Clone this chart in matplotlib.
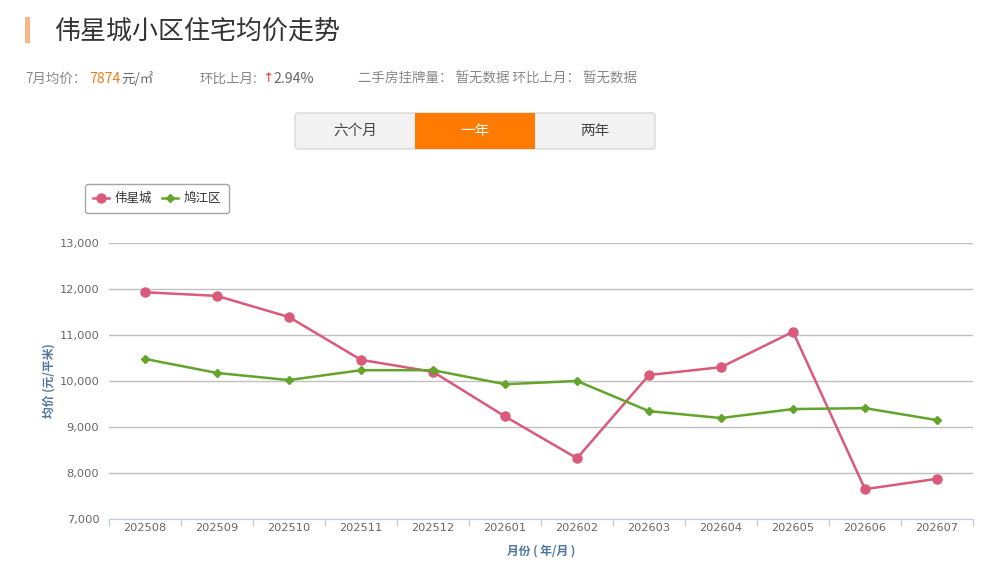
import matplotlib
matplotlib.use("Agg")
import matplotlib.pyplot as plt
from matplotlib.patches import Rectangle, FancyBboxPatch

plt.rcParams['font.family'] = ['Noto Sans CJK SC', 'DejaVu Sans']

months = ["202508", "202509", "202510", "202511", "202512", "202601",
          "202602", "202603", "202604", "202605", "202606", "202607"]
weixing = [11930, 11850, 11390, 10460, 10200, 9230, 8320, 10130, 10300, 11070, 7649, 7874]
jiujiang = [10480, 10175, 10020, 10235, 10235, 9930, 10000, 9345, 9195, 9390, 9410, 9150]
series_names = ["伟星城", "鸠江区"]
yticks = [7000, 8000, 9000, 10000, 11000, 12000, 13000]

W, H = 982, 565
fig = plt.figure(figsize=(W / 100, H / 100), dpi=100)
fig.patch.set_facecolor("white")

# overlay in pixel coordinates for header elements
bg = fig.add_axes([0, 0, 1, 1])
bg.set_xlim(0, W)
bg.set_ylim(H, 0)
bg.axis("off")

bg.add_patch(Rectangle((25, 17), 5, 26, color="#fbb584", lw=0))
bg.text(54, 31, "伟星城小区住宅均价走势", fontsize=18.7, color="#333333", va="center", ha="left")

small = 9.7
bg.text(25, 79, "7月均价：", fontsize=small, color="#888888", va="center")
bg.text(89, 79, "7874", fontsize=small + 0.5, color="#f07d1a", va="center")
bg.text(121, 79, "元/㎡", fontsize=small, color="#666666", va="center")
bg.text(200, 79, "环比上月:", fontsize=small, color="#888888", va="center")
bg.text(262, 79, "↑", fontsize=small, color="#e8413a", va="center", family=["DejaVu Sans"])
bg.text(273, 79, "2.94%", fontsize=small + 0.5, color="#666666", va="center")
bg.text(358, 79, "二手房挂牌量： 暂无数据 环比上月： 暂无数据", fontsize=small, color="#888888", va="center")

# tab buttons
bg.add_patch(FancyBboxPatch((295, 113), 360, 36, boxstyle="round,pad=0,rounding_size=3",
                            facecolor="#f2f2f2", edgecolor="#d9d9d9", lw=1))
bg.add_patch(Rectangle((415, 113), 120, 36, facecolor="#ff7a00", edgecolor="none"))
bg.text(355, 131, "六个月", fontsize=10.5, color="#444444", ha="center", va="center")
bg.text(475, 131, "一年", fontsize=10.5, color="white", ha="center", va="center")
bg.text(595, 131, "两年", fontsize=10.5, color="#444444", ha="center", va="center")

# main chart
left, right, top, bottom = 109, 973, 243, 519
ax = fig.add_axes([left / W, 1 - bottom / H, (right - left) / W, (bottom - top) / H])
ax.set_facecolor("none")
x = list(range(len(months)))
red = "#d95a7b"
green = "#62a52a"
ax.plot(x, weixing, color=red, lw=1.8, marker="o", ms=6.5, label=series_names[0], zorder=3)
ax.plot(x, jiujiang, color=green, lw=1.8, marker="D", ms=4.5, label=series_names[1], zorder=3)

ax.set_xlim(-0.5, len(months) - 0.5)
ax.set_ylim(7000, 13000)
ax.set_yticks(yticks)
ax.set_yticklabels([f"{v:,}" for v in yticks])
ax.set_xticks(x)
ax.set_xticklabels(months)
ax.set_xticks([i - 0.5 for i in range(len(months) + 1)], minor=True)
ax.tick_params(axis="x", which="major", length=0, pad=3, labelsize=8.2, colors="#666666")
ax.tick_params(axis="x", which="minor", length=5, color="#c0d0e0", width=1)
ax.tick_params(axis="y", length=0, pad=7, labelsize=8.2, colors="#666666")
for lab in ax.get_xticklabels() + ax.get_yticklabels():
    lab.set_family(["DejaVu Sans"])
ax.grid(axis="y", color="#c0c0c0", lw=1)
for s in ["top", "right", "left"]:
    ax.spines[s].set_visible(False)
ax.spines["bottom"].set_color("#c0d0e0")
ax.set_axisbelow(True)

ax.set_ylabel("均价 (元/平米)", fontsize=8.5, color="#4d759e", fontweight="bold", labelpad=3)
ax.set_xlabel("月份 ( 年/月 )", fontsize=8.5, color="#4d759e", fontweight="bold", labelpad=8)

leg = fig.legend(loc="upper left", bbox_to_anchor=(85 / W, 1 - 184 / H), bbox_transform=fig.transFigure,
                 ncol=2, frameon=True, fancybox=True, fontsize=9, handlelength=1.3,
                 columnspacing=0.8, handletextpad=0.4, borderpad=0.65, borderaxespad=0)
leg.get_frame().set_edgecolor("#909090")
leg.get_frame().set_linewidth(1)
for t in leg.get_texts():
    t.set_color("#333333")

fig.savefig("out.png", dpi=100)
